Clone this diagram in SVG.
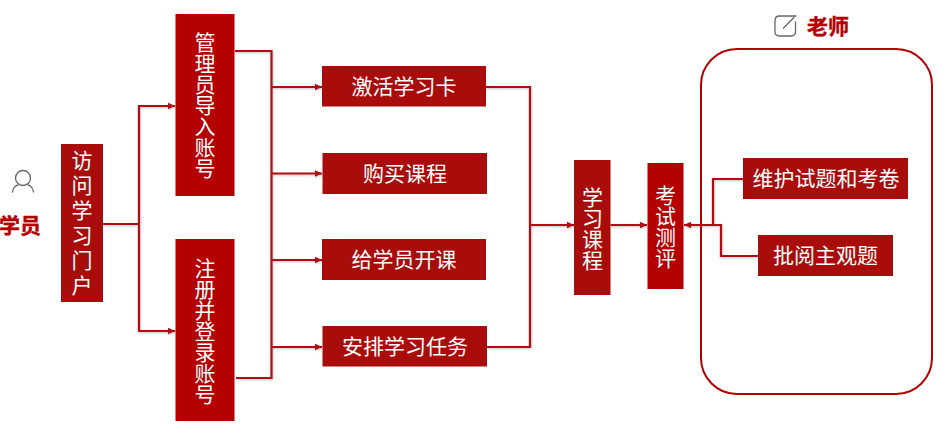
<svg xmlns="http://www.w3.org/2000/svg" width="944" height="424" viewBox="0 0 944 424">
<style>
.a{fill:#a90d0b}
.b{fill:#b40000}
.t{font-family:"Noto Sans CJK SC","Noto Sans",sans-serif;font-size:21px;fill:#fff;text-anchor:middle}
.v{writing-mode:vertical-rl}
.h{font-family:"Noto Sans CJK SC","Noto Sans",sans-serif;font-size:21px;font-weight:700;fill:#b40000;text-anchor:middle;stroke:#b40000;stroke-width:.4}
.c{fill:none;stroke:#b01012;stroke-width:2.200}
.i{fill:none;stroke:#666;stroke-width:1.300;stroke-linecap:round}
</style>
<defs>
<marker id="arr" markerUnits="userSpaceOnUse" markerWidth="8" markerHeight="8" refX="7" refY="4" orient="auto"><path d="M0 .8L7 4L0 7.200Z" fill="#b01012"/></marker>
<filter id="sh" x="-5%" y="-5%" width="110%" height="110%"><feDropShadow dx="0.5" dy="1" stdDeviation="0.8" flood-color="#000" flood-opacity=".25"/></filter>
</defs>
<g id="connectors">
<g filter="url(#sh)">
<path class="c" d="M103 224H139"/>
<path class="c" d="M139 224V331H175" marker-end="url(#arr)"/>
<path class="c" d="M139 224V106H175" marker-end="url(#arr)"/>
<path class="c" d="M235 51H271.500V378H236"/>
<path class="c" d="M271.500 87H322" marker-end="url(#arr)"/>
<path class="c" d="M271.500 173.500H322" marker-end="url(#arr)"/>
<path class="c" d="M271.500 260H322" marker-end="url(#arr)"/>
<path class="c" d="M271.500 347H322" marker-end="url(#arr)"/>
<path class="c" d="M486 87H530V347H487"/>
<path class="c" d="M530 225H574" marker-end="url(#arr)"/>
<path class="c" d="M610.500 225H647" marker-end="url(#arr)"/>
<path class="c" d="M743 179H713V225"/>
<path class="c" d="M758 256H721V225H684" marker-end="url(#arr)"/>
</g>
</g>
<g id="student">
<circle class="i" cx="23" cy="178" r="7.500"/>
<path class="i" d="M12.500 192C13 186 18 185 18 185M33.500 192C33 186 28 185 28 185"/>
<text class="h" x="20" y="233">学员</text>
</g>
<g id="portal"><rect class="a" x="61" y="144" width="42" height="158"/>
<text class="t v" x="82" y="225" letter-spacing="4">访问学习门户</text></g>
<g id="admin"><rect class="b" x="175.500" y="14" width="59" height="182"/>
<text class="t v" x="205" y="105.500">管理员导入账号</text></g>
<g id="register"><rect class="b" x="175.500" y="239" width="59" height="182"/>
<text class="t v" x="205" y="331">注册并登录账号</text></g>
<g id="activate"><rect class="a" x="322" y="66" width="164" height="40.500"/><text class="t" x="404" y="94">激活学习卡</text></g>
<g id="buy"><rect class="a" x="322.500" y="153" width="164.500" height="41"/><text class="t" x="405" y="181">购买课程</text></g>
<g id="open"><rect class="a" x="322" y="239" width="164" height="41"/><text class="t" x="404" y="267">给学员开课</text></g>
<g id="tasks"><rect class="a" x="322.500" y="326" width="164.500" height="40.500"/><text class="t" x="405" y="354">安排学习任务</text></g>
<g id="course"><rect class="a" x="574" y="160" width="36.500" height="135"/>
<text class="t v" x="592.500" y="229">学习课程</text></g>
<g id="exam"><rect class="b" x="647.500" y="163" width="36" height="126"/>
<text class="t v" x="665.500" y="226.500">考试测评</text></g>
<g id="teacher">
<rect x="701" y="49" width="231" height="345" rx="36" fill="none" stroke="#b40000" stroke-width="2"/>
<path class="i" d="M796 16H779.500Q775 16 775 20.500V31.500Q775 36 779.500 36H791Q795.500 36 795.500 31.500V22M783.500 28L794 17.500"/>
<text class="h" x="828" y="34">老师</text>
</g>
<g id="maintain"><rect class="a" x="743" y="158" width="165" height="41"/><text class="t" x="826" y="186">维护试题和考卷</text></g>
<g id="grade"><rect class="a" x="758" y="235" width="135" height="41"/><text class="t" x="825.500" y="263">批阅主观题</text></g>
</svg>
